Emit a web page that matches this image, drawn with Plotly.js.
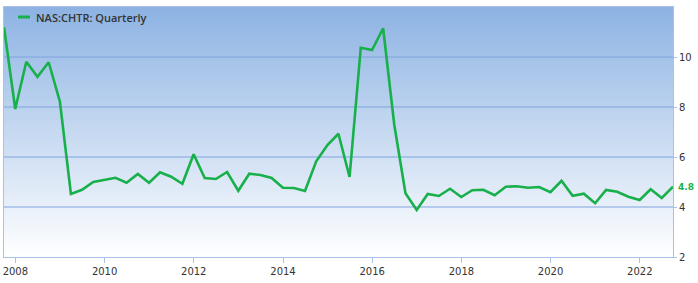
<!DOCTYPE html>
<html>
<head>
<meta charset="utf-8">
<script src="https://cdn.plot.ly/plotly-3.0.1.min.js"></script>
<style>
html,body{margin:0;padding:0;background:#fff;}
#chart{width:698px;height:283px;}
</style>
</head>
<body>
<div id="chart"></div>
<script>
// ---- data ----
var seriesName = 'NAS:CHTR: Quarterly';
var quarterDates = [
  '2007-09-30','2007-12-31',
  '2008-03-31','2008-06-30','2008-09-30','2008-12-31',
  '2009-03-31','2009-06-30','2009-09-30','2009-12-31',
  '2010-03-31','2010-06-30','2010-09-30','2010-12-31',
  '2011-03-31','2011-06-30','2011-09-30','2011-12-31',
  '2012-03-31','2012-06-30','2012-09-30','2012-12-31',
  '2013-03-31','2013-06-30','2013-09-30','2013-12-31',
  '2014-03-31','2014-06-30','2014-09-30','2014-12-31',
  '2015-03-31','2015-06-30','2015-09-30','2015-12-31',
  '2016-03-31','2016-06-30','2016-09-30','2016-12-31',
  '2017-03-31','2017-06-30','2017-09-30','2017-12-31',
  '2018-03-31','2018-06-30','2018-09-30','2018-12-31',
  '2019-03-31','2019-06-30','2019-09-30','2019-12-31',
  '2020-03-31','2020-06-30','2020-09-30','2020-12-31',
  '2021-03-31','2021-06-30','2021-09-30','2021-12-31',
  '2022-03-31','2022-06-30','2022-09-30'
];
var quarterValues = [
  11.19, 7.92,
  9.81, 9.21, 9.79, 8.21,
  4.52, 4.69, 5.00, 5.08,
  5.17, 4.97, 5.32, 4.97,
  5.39, 5.21, 4.93, 6.11,
  5.16, 5.12, 5.40, 4.65,
  5.33, 5.28, 5.16, 4.77,
  4.76, 4.64, 5.83, 6.48,
  6.93, 5.20, 10.37, 10.28,
  11.15, 7.30, 4.55, 3.88,
  4.52, 4.44, 4.73, 4.40,
  4.67, 4.69, 4.47, 4.81,
  4.83, 4.77, 4.80, 4.59,
  5.05, 4.45, 4.53, 4.15,
  4.68, 4.61, 4.41, 4.28,
  4.71, 4.36, 4.81
];
var yTickVals = [2, 4, 6, 8, 10];
var gridVals = [4, 6, 8, 10];
var xTickStart = '2008-01-01';
var lastLabel = '4.8';

// ---- styling ----
var lineColor = '#17b04a';
var textColor = '#333333';
var gridColor = '#7ea3dc';

// gradient background as stacked stripes (top blue -> bottom white)
var topC = [141, 179, 227], botC = [255, 255, 255];
var shapes = [];
var N = 90;
for (var i = 0; i < N; i++) {
  var t = (i + 0.5) / N; // 0 at bottom -> 1 at top
  var c = botC.map(function (b, k) { return Math.round(b + (topC[k] - b) * t); });
  shapes.push({
    type: 'rect', xref: 'x domain', yref: 'y domain', layer: 'below',
    x0: 0, x1: 1, y0: i / N, y1: Math.min(1, (i + 1) / N + 0.003),
    fillcolor: 'rgb(' + c.join(',') + ')', line: {width: 0}
  });
}
// horizontal grid lines, drawn after the stripes so they sit on top of them (still below the trace)
gridVals.forEach(function (v) {
  shapes.push({
    type: 'line', xref: 'x domain', yref: 'y', layer: 'below',
    x0: 0, x1: 1, y0: v, y1: v,
    line: {color: gridColor, width: 1}
  });
});
// legend glyph
shapes.push({
  type: 'line', xref: 'paper', yref: 'paper', layer: 'above',
  x0: 14 / 669, x1: 26 / 669, y0: 0.96, y1: 0.96,
  line: {color: lineColor, width: 3}
});

var trace = {
  type: 'scatter', mode: 'lines', name: seriesName,
  x: quarterDates, y: quarterValues,
  line: {color: lineColor, width: 2.6},
  cliponaxis: true, hoverinfo: 'x+y'
};

var lastIdx = quarterValues.length - 1;

var layout = {
  width: 698, height: 283,
  margin: {l: 4, r: 25, t: 7, b: 26, pad: 0},
  paper_bgcolor: '#ffffff',
  plot_bgcolor: 'rgba(0,0,0,0)',
  showlegend: false,
  font: {family: 'DejaVu Sans, Arial, sans-serif', size: 10, color: textColor},
  xaxis: {
    type: 'date',
    range: [quarterDates[0], quarterDates[lastIdx]],
    tick0: xTickStart, dtick: 'M24', tickformat: '%Y',
    ticks: 'outside', ticklen: 5, tickcolor: '#a9c1e6',
    showgrid: false, zeroline: false,
    showline: true, linecolor: '#a9c1e6', linewidth: 1, mirror: true,
    tickfont: {size: 10, color: textColor}
  },
  yaxis: {
    range: [2, 12], side: 'right',
    tickmode: 'array', tickvals: yTickVals,
    ticks: 'outside', ticklen: 3, tickcolor: '#a9c1e6',
    showgrid: false, zeroline: false,
    showline: true, linecolor: '#a9c1e6', linewidth: 1, mirror: true,
    tickfont: {size: 10, color: textColor}
  },
  shapes: shapes,
  annotations: [
    {
      xref: 'paper', yref: 'paper', x: 30 / 669, y: 0.96,
      xanchor: 'left', yanchor: 'middle', showarrow: false,
      text: seriesName,
      font: {family: 'Open Sans, DejaVu Sans, sans-serif', size: 11, color: textColor, weight: 600}
    },
    {
      xref: 'x', yref: 'y', x: quarterDates[lastIdx], y: quarterValues[lastIdx],
      xanchor: 'left', yanchor: 'middle', showarrow: false, xshift: 3,
      text: lastLabel,
      font: {family: 'DejaVu Sans, sans-serif', size: 9, color: lineColor, weight: 600}
    }
  ]
};

Plotly.newPlot('chart', [trace], layout, {displayModeBar: false, staticPlot: true});
</script>
</body>
</html>
